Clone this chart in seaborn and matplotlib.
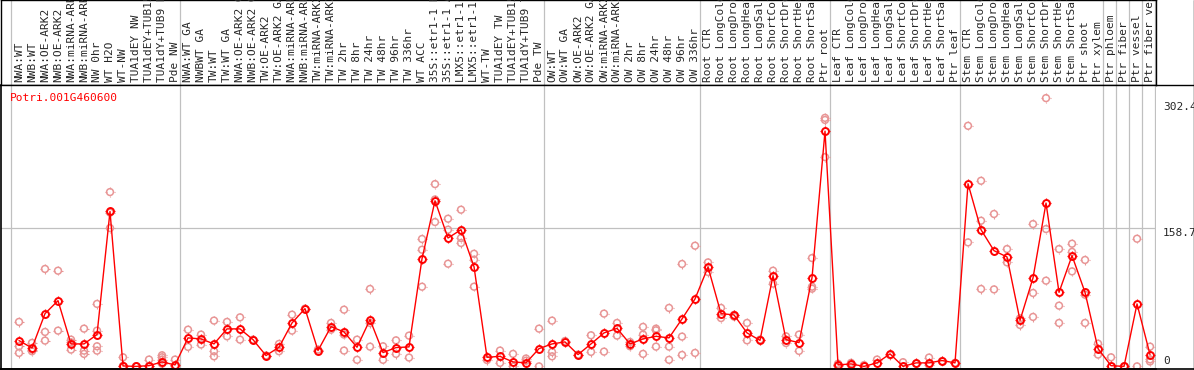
import pandas as pd
import seaborn as sns
import matplotlib.pyplot as plt
from matplotlib.lines import Line2D
from matplotlib.path import Path

# sample labels, grouped
group_sizes = [13, 28, 12, 10, 10, 11, 1, 1, 1, 1]
samples = [
    "NWA:WT", "NWB:WT", "NWA:OE-ARK2", "NWB:OE-ARK2", "NWA:miRNA-ARK2", "NWB:miRNA-ARK2",
    "NW 0hr", "WT H2O", "WT-NW", "TUA1dEY NW", "TUA1dEY+TUB15 NW", "TUA1dY+TUB9 NW", "Pde NW",
    "NWA:WT GA", "NWBWT GA", "TW:WT", "TW:WT GA", "NWA:OE-ARK2 GA", "NWB:OE-ARK2 GA",
    "TW:OE-ARK2", "TW:OE-ARK2 GA", "NWA:miRNA-ARK2 GA", "NWB:miRNA-ARK2 GA", "TW:miRNA-ARK2",
    "TW:miRNA-ARK2 GA", "TW 2hr", "TW 8hr", "TW 24hr", "TW 48hr", "TW 96hr", "TW 336hr", "WT ACC",
    "35S::etr1-1 H2O", "35S::etr1-1 ACC", "LMX5::etr1-1 H2O", "LMX5::etr1-1 ACC", "WT-TW",
    "TUA1dEY TW", "TUA1dEY+TUB15 TW", "TUA1dY+TUB9 TW", "Pde TW",
    "OW:WT", "OW:WT GA", "OW:OE-ARK2", "OW:OE-ARK2 GA", "OW:miRNA-ARK2", "OW:miRNA-ARK2 GA",
    "OW 2hr", "OW 8hr", "OW 24hr", "OW 48hr", "OW 96hr", "OW 336hr",
    "Root CTR", "Root LongCold", "Root LongDrought", "Root LongHeat", "Root LongSalt",
    "Root ShortCold", "Root ShortDrought", "Root ShortHeat", "Root ShortSalt", "Ptr root",
    "Leaf CTR", "Leaf LongCold", "Leaf LongDrought", "Leaf LongHeat", "Leaf LongSalt",
    "Leaf ShortCold", "Leaf ShortDrought", "Leaf ShortHeat", "Leaf ShortSalt", "Ptr leaf",
    "Stem CTR", "Stem LongCold", "Stem LongDrought", "Stem LongHeat", "Stem LongSalt",
    "Stem ShortCold", "Stem ShortDrought", "Stem ShortHeat", "Stem ShortSalt", "Ptr shoot", "Ptr xylem",
    "Ptr phloem", "Ptr fiber", "Ptr vessel", "Ptr fiber vessel",
]

means = [
    29.5, 21.1, 60.4, 75.2, 25.7, 25.7, 36.4, 177.3, 0.5, 0, 0.8, 5.1, 1.7,
    32.6, 31.4, 25.7, 42.9, 42.9, 30.6, 12.4, 21.9, 49.7, 66.1, 18.1, 45.5, 39.4, 21.9,
    53.5, 15.8, 21.5, 22.3, 123.2, 189.5, 146.9, 156.4, 114.1, 10.4, 11.5, 5.1, 4.0, 20.3,
    25.7, 28.0, 13.5, 25.7, 38.3, 43.5, 25.7, 31.4, 34.4, 32.6, 54.3, 77.2,
    113.7, 60.4, 58.9, 38.3, 29.8, 103.8, 30.6, 27.2, 101.5, 269.2,
    1.7, 2.8, 0, 4.0, 14.3, 0, 4.0, 4.0, 6.7, 4.0,
    209.0, 156.4, 132.4, 125.2, 52.7, 101.2, 186.9, 84.7, 126.7, 84.7, 20.3,
    0.8, 0, 71.5, 13.5,
]

reps = [
    [50.9, 23.0, 15.4], [26.9, 17.3, 19.2], [111.5, 39.4, 29.5], [109.5, 40.9],
    [30.6, 27.5, 19.2], [43.2, 18.0, 14.3], [71.5, 40.9, 23.0, 18.0], [199.5, 176.0, 158.3],
    [10.4, 0.5], [0, 0], [7.8, 0.5], [12.7, 10.4, 7.8, 3.0], [7.8, 0],
    [42.0, 22.3], [36.4, 25.0], [52.4, 17.3, 11.5], [50.9, 34.4], [56.1, 30.6], [30.6],
    [12.4], [25.7, 17.3], [59.2, 40.9], [66.1], [19.2], [49.7, 42.0], [64.9, 36.4, 18.1],
    [30.6, 7.5], [88.6, 49.7, 22.6], [23.0, 7.5], [29.8, 14.3], [35.2, 10.1],
    [145.8, 133.5, 91.2], [208.6, 191.0, 165.2], [169.0, 156.4, 117.5], [179.3, 146.9, 141.2],
    [128.9, 122.1, 91.2], [7.3], [18.1, 4.0], [14.3, 0], [9.0, 6.5], [43.2, 0],
    [52.4, 16.5, 11.5], [29.0], [13.5], [35.6, 16.6], [60.4, 16.9], [49.7, 35.2], [27.9, 23.0],
    [45.2, 36.4, 14.3], [43.2, 41.3, 22.6], [66.9, 22.6, 7.5], [117.2, 34.1, 13.1], [138.1, 15.4],
    [119.0, 108.0], [66.9, 55.3], [58.9, 57.0], [49.7, 29.8], [30.6], [109.5, 94.7],
    [34.4, 26.7], [36.4, 17.7], [124.0, 88.9, 91.2], [284.4, 282.0, 239.5],
    [3.0, 0.5], [4.0, 1.5], [1.5], [7.8], [13.0], [4.8], [3.0], [10.1, 1.5], [6.0], [4.0],
    [275.3, 141.9], [212.4, 166.7, 88.6], [174.4, 88.1], [134.3, 119.0], [55.0, 47.4],
    [162.9, 84.0, 56.6], [307.0, 157.2, 98.1], [134.3, 69.5, 49.7], [140.4, 131.0, 108.7],
    [121.8, 82.0, 49.7], [26.0, 13.5],
    [10.4], [0], [146.1, 0], [22.6, 5.6, 8.0],
]

gene = "Potri.001G460600"
ytick_vals = [302.4, 158.7, 0]

mean_df = pd.DataFrame({"idx": range(len(means)), "expr": means})
rep_df = pd.DataFrame(
    [(i, v) for i, vals in enumerate(reps) for v in vals], columns=["idx", "expr"]
)

# little tick stubs around each circle, like the original renderer draws
stubs = Path(
    [(0, 0.75), (0, 1), (0, -0.75), (0, -1), (0.75, 0), (1, 0), (-0.75, 0), (-1, 0)],
    [Path.MOVETO, Path.LINETO] * 4,
)

sns.set_style("white")
plt.rcParams["font.family"] = "DejaVu Sans Mono"

W, H = 1194, 370
fig = plt.figure(figsize=(W / 100, H / 100), dpi=100)
ax_lab = fig.add_axes([1 / W, (H - 85) / H, 1155 / W, 85 / H])
ax = fig.add_axes([1 / W, 1 / H, 1155 / W, (369 - 85) / H], sharex=ax_lab)

xmin, xmax = -1.385, 87.46
grid_c = "#c0c0c0"

# group boundaries
bounds = [-0.65]
pos = -1
for g in group_sizes:
    pos += g
    bounds.append(pos + 0.4)
for b in bounds:
    ax.axvline(b, color=grid_c, lw=0.9, zorder=0)
    ax_lab.axvline(b, color=grid_c, lw=0.9, zorder=0)
ax.axhline(158.7, color=grid_c, lw=0.9, zorder=0)

rep_c = "#e89595"
# replicates
sns.scatterplot(data=rep_df, x="idx", y="expr", ax=ax, marker="o", s=24,
                facecolor="none", edgecolor=rep_c, linewidth=1.1, zorder=2, legend=False)
sns.scatterplot(data=rep_df, x="idx", y="expr", ax=ax, marker=stubs, s=45,
                facecolor="none", edgecolor=rep_c, linewidth=0.8, zorder=2, legend=False)
# mean line
sns.lineplot(data=mean_df, x="idx", y="expr", ax=ax, color="red", lw=1.0,
             marker="o", markersize=5, markerfacecolor="none", markeredgecolor="red",
             markeredgewidth=1.4, zorder=3)
sns.scatterplot(data=mean_df, x="idx", y="expr", ax=ax, marker=stubs, s=48,
                facecolor="none", edgecolor="red", linewidth=0.9, zorder=3, legend=False)

ax.set_xlim(xmin, xmax)
ax.set_ylim(-3, 322)
ax.set_xlabel("")
ax.set_ylabel("")
ax.set_xticks([])
ax.set_yticks([])
for s in ["top", "right"]:
    ax.spines[s].set_visible(False)
for s in ["left", "bottom"]:
    ax.spines[s].set_color("black")
    ax.spines[s].set_linewidth(1.2)

ax.text(0.0075, 0.955, gene, transform=ax.transAxes, color="red", fontsize=8,
        ha="left", va="center")

# y tick labels on the right
for v in ytick_vals:
    ax.text(1.006, v, f"{v:g}" if v else "0",
            transform=ax.get_yaxis_transform(), fontsize=8,
            ha="left", va="bottom" if v == 0 else "top", clip_on=False)

# sample labels
ax_lab.set_ylim(0, 1)
ax_lab.set_xticks([])
ax_lab.set_yticks([])
for s in ax_lab.spines.values():
    s.set_color("black")
    s.set_linewidth(1.0)
for i, name in enumerate(samples):
    ax_lab.text(i, 0.03, name, rotation=90, ha="center", va="bottom",
                fontsize=8, clip_on=False)

fig.add_artist(Line2D([0, 1], [(H - 85) / H] * 2, color="black", lw=1.0))
fig.add_artist(Line2D([0, 1], [1 / H] * 2, color="black", lw=1.2))
fig.add_artist(Line2D([1193.5 / W] * 2, [0, 1], color="black", lw=1.0))

fig.savefig("out.png", dpi=100)
